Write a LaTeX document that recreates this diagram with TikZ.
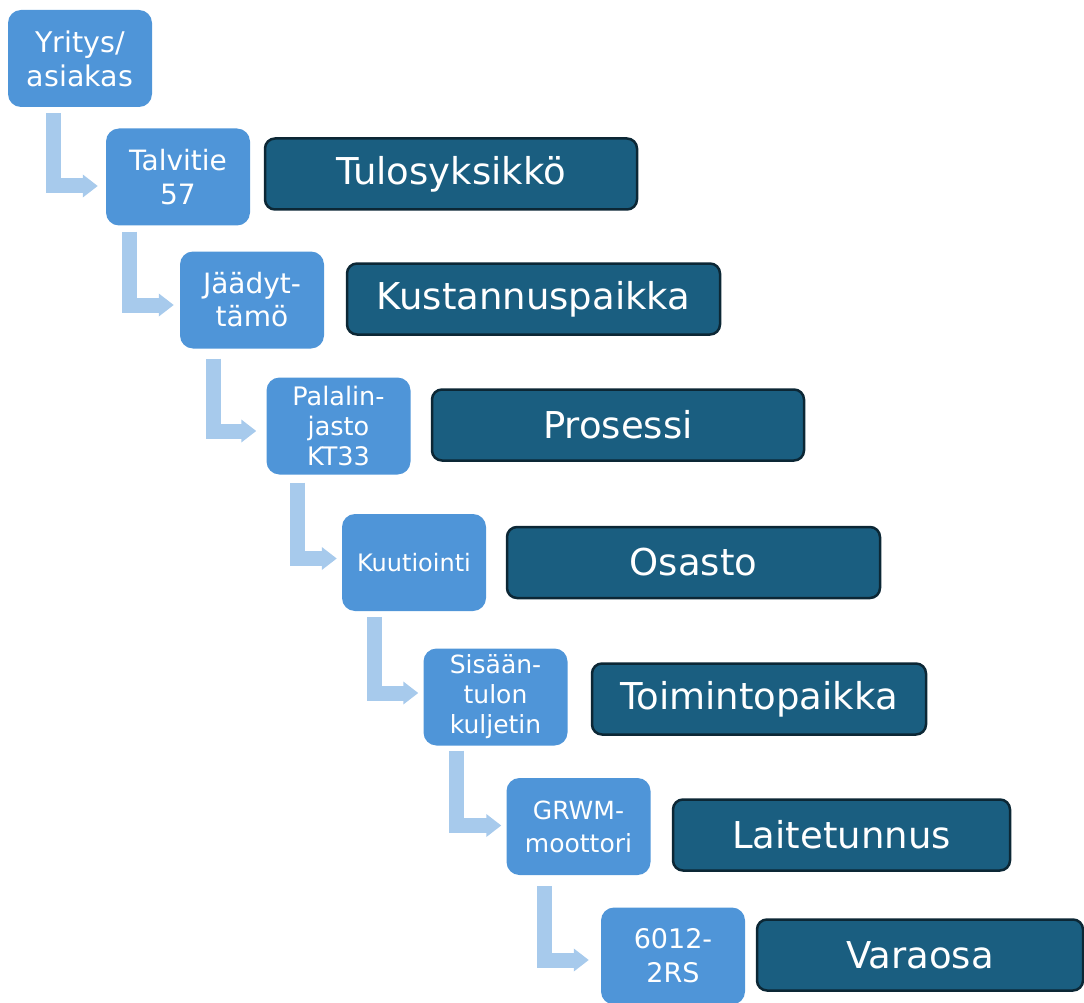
\documentclass[tikz,border=0pt]{standalone}
\usepackage{fontspec}
\setmainfont{DejaVu Sans}
\usetikzlibrary{arrows.meta}

\definecolor{levelblue}{HTML}{4F95D8}
\definecolor{linkblue}{HTML}{A7CAEC}
\definecolor{tagfill}{HTML}{1A5E80}
\definecolor{tagline}{HTML}{0C2735}

\begin{document}
\begin{tikzpicture}[x=1pt,y=-1pt,
  item/.style={fill=levelblue, rounded corners=13pt, minimum width=144pt,
    minimum height=97pt, inner sep=0pt, align=center, text=white,
    font=\fontsize{25}{32}\selectfont},
  tag/.style={fill=tagfill, draw=tagline, line width=2.5pt, rounded corners=10pt,
    minimum height=71pt, inner sep=0pt, text=white,
    font=\fontsize{37}{44}\selectfont},
  link/.style={draw=linkblue, line width=15pt, line join=miter, line cap=butt,
    -{Triangle[width=22pt,length=15pt]}}]

\useasboundingbox (0,0) rectangle (1084,1003);
\clip (0,0) rectangle (1084,1003);

% hierarchy levels
\node[item, font=\fontsize{28.5}{34}\selectfont] (b1) at (80,58.5) {Yritys/\\asiakas};
\node[item, font=\fontsize{28}{34}\selectfont] (b2) at (178,177) {Talvitie\\57};
\node[item, font=\fontsize{28}{33}\selectfont] (b3) at (252,300) {Jäädyt-\\tämö};
\node[item, font=\fontsize{25.5}{30}\selectfont] (b4) at (338.5,426) {Palalin-\\jasto\\KT33};
\node[item, font=\fontsize{24}{30}\selectfont] (b5) at (414,562.5) {Kuutiointi};
\node[item, font=\fontsize{25}{30}\selectfont] (b6) at (495.5,697) {Sisään-\\tulon\\kuljetin};
\node[item, font=\fontsize{25}{33}\selectfont] (b7) at (578.5,826.5) {GRWM-\\moottori};
\node[item, font=\fontsize{27}{34}\selectfont] (b8) at (673,956) {6012-\\2RS};

% level names
\node[tag, minimum width=372pt] (t1) at (451,174) {Tulosyksikkö};
\node[tag, minimum width=373pt] (t2) at (533.5,299) {Kustannuspaikka};
\node[tag, minimum width=372pt] (t3) at (618,425) {Prosessi};
\node[tag, minimum width=373pt] (t4) at (693.5,562.5) {Osasto};
\node[tag, minimum width=334pt] (t5) at (759,699) {Toimintopaikka};
\node[tag, minimum width=337pt] (t6) at (841.5,835) {Laitetunnus};
\node[tag, minimum width=326pt] (t7) at (920,955) {Varaosa};

% elbow connectors between levels
\draw[link] ([xshift=46pt,yshift=-6pt]b1.south west) |- ([xshift=-8pt,yshift=-9pt]b2.west);
\draw[link] ([xshift=24pt,yshift=-6pt]b2.south west) |- ([xshift=-6pt,yshift=-5pt]b3.west);
\draw[link] ([xshift=34pt,yshift=-10pt]b3.south west) |- ([xshift=-10pt,yshift=-5pt]b4.west);
\draw[link] ([xshift=31pt,yshift=-8pt]b4.south west) |- ([xshift=-5pt,yshift=4pt]b5.west);
\draw[link] ([xshift=33pt,yshift=-6pt]b5.south west) |- ([xshift=-5pt,yshift=4pt]b6.west);
\draw[link] ([xshift=33pt,yshift=-5pt]b6.south west) |- ([xshift=-5pt,yshift=1pt]b7.west);
\draw[link] ([xshift=38pt,yshift=-11pt]b7.south west) |- ([xshift=-12pt,yshift=-4pt]b8.west);
\end{tikzpicture}
\end{document}
